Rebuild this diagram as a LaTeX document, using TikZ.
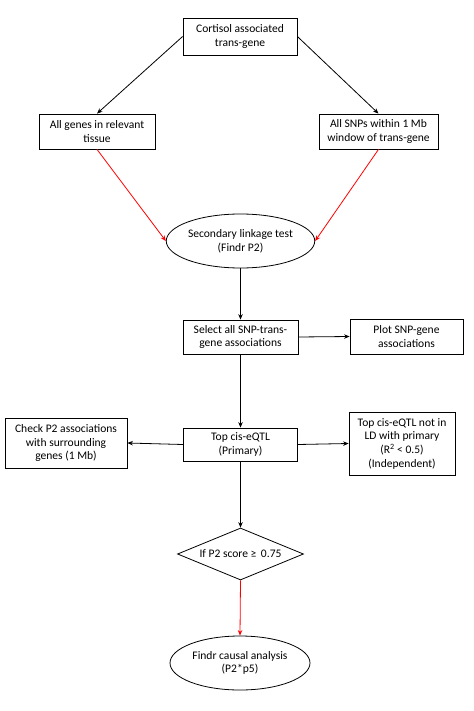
\documentclass[tikz,border=0pt]{standalone}
\usepackage{fontspec}
\setmainfont{Carlito}
\usetikzlibrary{shapes.geometric,arrows.meta}
\begin{document}
\begin{tikzpicture}[x=1bp,y=-1bp,
  every node/.style={font=\fontsize{11.6}{13.7}\selectfont, align=center, inner sep=0pt, line width=0.8bp},
  box/.style={draw, rectangle},
  oval/.style={draw, ellipse},
  dia/.style={draw, diamond},
  arr/.style={line width=0.8bp, -{Stealth[length=5.5bp,width=4.5bp]}},
  rarr/.style={arr, draw=red, -{Stealth[length=5.5bp,width=4.5bp,fill=red]}}
]
\useasboundingbox (0,0) rectangle (474,711);
\node[box, minimum width=114bp, minimum height=37bp] (top) at (240,36.5) {Cortisol associated\\trans-gene};
\node[box, minimum width=116bp, minimum height=35bp] (genes) at (97,131.5) {All genes in relevant\\tissue};
\node[box, minimum width=119bp, minimum height=35bp] (snps) at (378.5,131.5) {All SNPs within 1 Mb\\window of trans-gene};
\node[oval, minimum width=141bp, minimum height=54bp] (sec) at (240.5,241) {Secondary linkage test\\(Findr P2)};
\node[box, minimum width=115bp, minimum height=34bp] (sel) at (240.5,337) {Select all SNP-trans-\\gene associations};
\node[box, minimum width=113bp, minimum height=35bp] (plot) at (406.5,336.5) {Plot SNP-gene\\associations};
\node[box, minimum width=122bp, minimum height=50bp] (check) at (66,443) {Check P2 associations\\with surrounding\\genes (1 Mb)};
\node[box, minimum width=114bp, minimum height=33bp] (topcis) at (240.5,444.5) {Top cis-eQTL\\(Primary)};
\node[box, minimum width=106bp, minimum height=63bp] (indep) at (402,443.5) {Top cis-eQTL not in\\LD with primary\\(R\textsuperscript{2} < 0.5)\\(Independent)};
\node[dia, minimum width=126bp, minimum height=52bp] (ifp) at (240.5,554) {\makebox[0pt]{If P2 score ≥ \,0.75}};
\node[oval, minimum width=140bp, minimum height=54bp] (findr) at (240,663) {Findr causal analysis\\(P2*p5)};

\draw[arr] (top.west) -- (genes.north);
\draw[arr] (top.east) -- (snps.north);
\draw[rarr] (genes.south) -- (sec.west);
\draw[rarr] (snps.south) -- (sec.east);
\draw[arr] (sec.south) -- (sel.north);
\draw[arr] (sel.east) -- (plot.west);
\draw[arr] (sel.south) -- (topcis.north);
\draw[arr] (topcis.west) -- (check.east);
\draw[arr] (topcis.east) -- (indep.west);
\draw[arr] (topcis.south) -- (ifp.north);
\draw[rarr] (ifp.south) -- (findr.north);
\end{tikzpicture}
\end{document}
